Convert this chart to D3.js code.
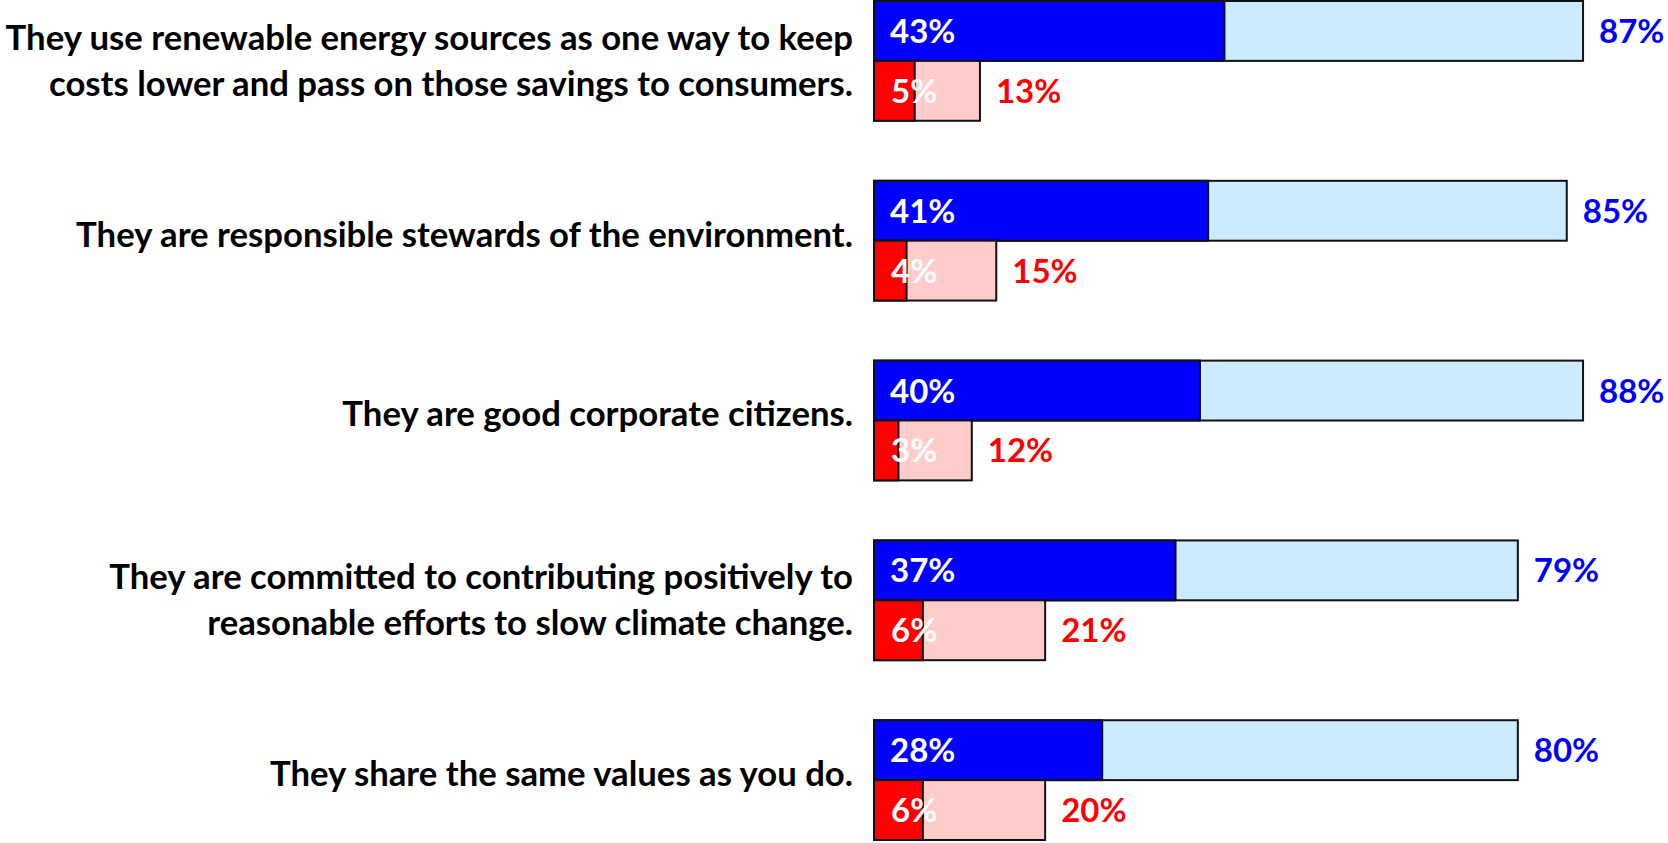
<!DOCTYPE html>
<html>
<head>
<meta charset="utf-8">
<script src="https://cdn.jsdelivr.net/npm/d3@7"></script>
<style>
  html, body { margin: 0; padding: 0; background: #fff; }
  svg { display: block; }
  text { font-family: Lato, "Open Sans", sans-serif; font-weight: 700; }
</style>
</head>
<body>
<svg id="chart" width="1668" height="843"></svg>
<script>
// ---- data ----
const categories = [
  "They use renewable energy sources as one way to keep\ncosts lower and pass on those savings to consumers.",
  "They are responsible stewards of the environment.",
  "They are good corporate citizens.",
  "They are committed to contributing positively to\nreasonable efforts to slow climate change.",
  "They share the same values as you do."
];
// strong shares (dark bars, labels inside)
const agreeStrong = [43, 41, 40, 37, 28];
const disagreeStrong = [5, 4, 3, 6, 6];
// total shares as labelled
const agreeTotal  = [87, 85, 88, 79, 80];
const disagreeTotal  = [13, 15, 12, 21, 20];
// total bar lengths as drawn (sum of separately rounded parts)
const agreeBar = [87, 85, 87, 79, 79];
const disagreeBar = [13, 15, 12, 21, 21];

// ---- layout ----
const svg = d3.select("#chart");

const x = d3.scaleLinear().domain([0, 100]).range([874, 1689]);
const y = d3.scaleBand().domain(categories).range([1, 840]).paddingInner(0.334).paddingOuter(0);
const rows = d3.scaleBand().domain(["agree", "disagree"]).range([0, y.bandwidth()]);

const colors = {
  agreeStrong: "#0000FF", agreeLight: "#CCEBFF",
  disStrong: "#FF0000", disLight: "#FFCCCC"
};

const data = categories.map((c, i) => ({
  cat: c,
  aS: agreeStrong[i], aT: agreeTotal[i], aB: agreeBar[i],
  dS: disagreeStrong[i], dT: disagreeTotal[i], dB: disagreeBar[i]
}));

const g = svg.append("g");

const groups = g.selectAll("g.grp").data(data).join("g")
  .attr("class", "grp")
  .attr("transform", d => `translate(0,${y(d.cat)})`);

function bar(sel, row, val, fill) {
  sel.append("rect")
    .attr("x", x(0))
    .attr("y", rows(row))
    .attr("width", d => x(val(d)) - x(0))
    .attr("height", rows.bandwidth())
    .attr("fill", fill)
    .attr("stroke", "#111")
    .attr("stroke-width", 2);
}

bar(groups, "agree", d => d.aB, colors.agreeLight);
bar(groups, "agree", d => d.aS, colors.agreeStrong);
bar(groups, "disagree", d => d.dB, colors.disLight);
bar(groups, "disagree", d => d.dS, colors.disStrong);

const fmt = v => v + "%";
const valSize = 33;

// inside labels
groups.append("text")
  .attr("x", x(0) + 16)
  .attr("y", rows("agree") + rows.bandwidth() / 2 + 12)
  .attr("fill", "#fff").attr("font-size", valSize)
  .text(d => fmt(d.aS));
groups.append("text")
  .attr("x", x(0) + 17)
  .attr("y", rows("disagree") + rows.bandwidth() / 2 + 12)
  .attr("fill", "#fff").attr("font-size", valSize)
  .text(d => fmt(d.dS));

// outside labels
groups.append("text")
  .attr("x", d => x(d.aB) + 16)
  .attr("y", rows("agree") + rows.bandwidth() / 2 + 12)
  .attr("fill", "#0000FF").attr("font-size", valSize)
  .text(d => fmt(d.aT));
groups.append("text")
  .attr("x", d => x(d.dB) + 16)
  .attr("y", rows("disagree") + rows.bandwidth() / 2 + 12)
  .attr("fill", "#FF0000").attr("font-size", valSize)
  .text(d => fmt(d.dT));

// category labels
const catSize = 34.7, lineH = 46;
groups.each(function(d) {
  const lines = d.cat.split("\n");
  const cy = y.bandwidth() / 2;
  const t = d3.select(this).append("text")
    .attr("text-anchor", "end")
    .attr("font-size", catSize)
    .attr("fill", "#000");
  const first = lines.length === 1 ? cy + 6 : cy + 12 - lineH / 2;
  lines.forEach((ln, k) => {
    t.append("tspan").attr("x", 853).attr("y", first + k * lineH).text(ln);
  });
});
</script>
</body>
</html>
